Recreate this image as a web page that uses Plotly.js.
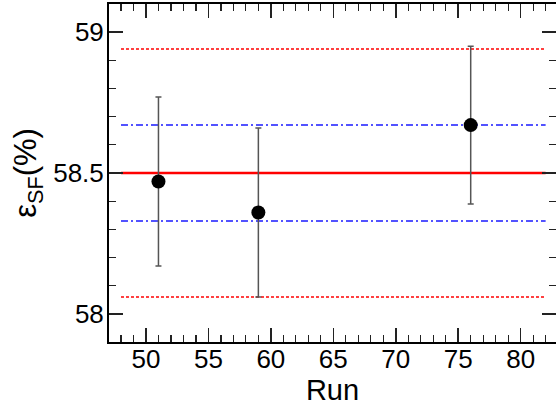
<!DOCTYPE html>
<html>
<head>
<meta charset="utf-8">
<script src="https://cdn.plot.ly/plotly-3.0.1.min.js"></script>
<style>html,body{margin:0;padding:0;background:#fff;}#chart{width:556px;height:408px;}</style>
</head>
<body>
<div id="chart"></div>
<script>
// Data
const runs = [51, 59, 76];
const effValues = [58.47, 58.36, 58.67];
const effErrors = [0.30, 0.30, 0.28];
const lineSpan = [48, 82];
const meanValue = 58.5;
const innerBand = [58.33, 58.67];
const outerBand = [58.06, 58.94];

const font = "'Liberation Sans', Arial, Helvetica, sans-serif";

function hline(y, color, width, dash) {
  return {
    x: lineSpan, y: [y, y], mode: 'lines', type: 'scatter',
    line: {color: color, width: width, dash: dash},
    hoverinfo: 'skip', showlegend: false
  };
}

const traces = [
  hline(outerBand[0], '#ff0000', 1.5, '3px,2px'),
  hline(outerBand[1], '#ff0000', 1.5, '3px,2px'),
  hline(innerBand[0], '#1a1aff', 1.5, '7px,3px,2px,3px'),
  hline(innerBand[1], '#1a1aff', 1.5, '7px,3px,2px,3px'),
  hline(meanValue, '#ff0000', 2.5, 'solid'),
  {
    x: runs, y: effValues, type: 'scatter', mode: 'markers',
    marker: {color: '#000', size: 14},
    error_y: {type: 'data', array: effErrors, visible: true, color: '#555', thickness: 1.5, width: 3},
    showlegend: false
  }
];

const axisCommon = {
  showline: true, linecolor: '#000', linewidth: 2, mirror: 'ticks',
  ticks: 'inside', ticklen: 14, tickwidth: 1.5, tickcolor: '#222',
  showgrid: false, zeroline: false, automargin: false,
  tickfont: {family: font, size: 26, color: '#000'}
};

const layout = {
  width: 556, height: 408,
  margin: {l: 109, r: 0, t: 4, b: 66},
  paper_bgcolor: '#fff', plot_bgcolor: '#fff',
  font: {family: font, color: '#000'},
  xaxis: Object.assign({}, axisCommon, {
    range: [47.04, 82.83], tick0: 50, dtick: 5, ticklabelstandoff: -7,
    minor: {dtick: 1, ticks: 'inside', ticklen: 7, tickwidth: 1.2, tickcolor: '#222'},
    title: {text: 'Run', font: {family: font, size: 29, color: '#000'}, standoff: 0}
  }),
  yaxis: Object.assign({}, axisCommon, {
    range: [57.9, 59.1], tick0: 58, dtick: 0.5, ticklabelstandoff: -2,
    minor: {dtick: 0.1, ticks: 'inside', ticklen: 7, tickwidth: 1.2, tickcolor: '#222'},
    title: {text: 'ε<sub>SF</sub>(%)', font: {family: font, size: 31, color: '#000'}, standoff: 7}
  })
};

Plotly.newPlot('chart', traces, layout, {displayModeBar: false, staticPlot: true});
</script>
</body>
</html>
